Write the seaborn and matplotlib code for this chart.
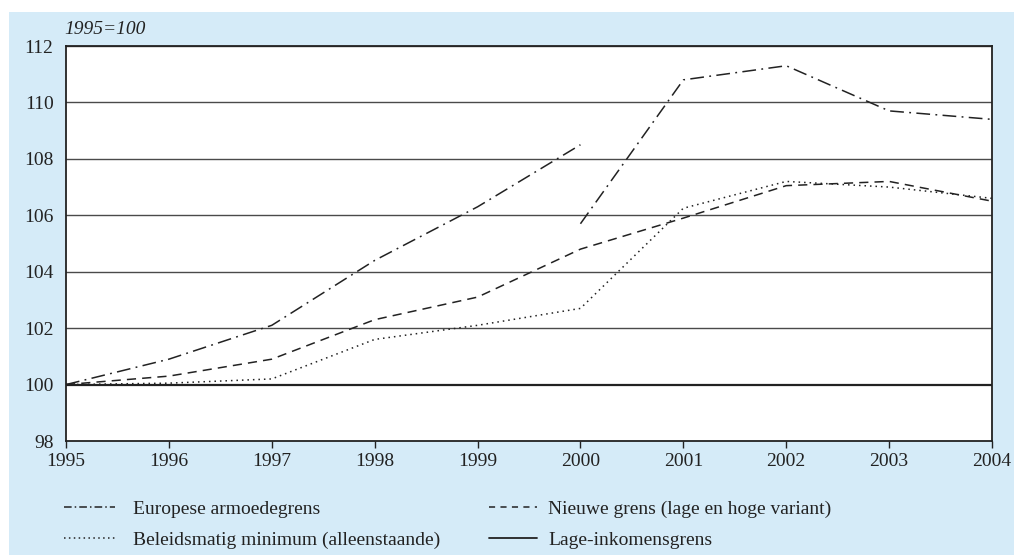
import matplotlib
matplotlib.use("Agg")
import matplotlib.pyplot as plt
import seaborn as sns
from matplotlib.patches import Rectangle
from matplotlib.lines import Line2D

# Index values, 1995 = 100
years = [1995, 1996, 1997, 1998, 1999, 2000, 2001, 2002, 2003, 2004]
europese_oud_jaren = [1995, 1996, 1997, 1998, 1999, 2000]
europese_oud = [100.0, 100.9, 102.1, 104.4, 106.3, 108.5]
europese_nieuw_jaren = [2000, 2001, 2002, 2003, 2004]
europese_nieuw = [105.7, 110.8, 111.3, 109.7, 109.4]
nieuwe_grens = [100.0, 100.3, 100.9, 102.3, 103.1, 104.8, 105.9, 107.05, 107.2, 106.5]
beleidsmatig = [100.0, 100.05, 100.2, 101.6, 102.1, 102.7, 106.25, 107.2, 107.0, 106.6]
lage_inkomens = [100.0] * 10

labels = ["Europese armoedegrens", "Beleidsmatig minimum (alleenstaande)",
          "Nieuwe grens (lage en hoge variant)", "Lage-inkomensgrens"]

sns.set_theme(style="white")
plt.rcParams["font.family"] = ["Liberation Serif", "DejaVu Serif"]

BG = "#d5ebf8"
INK = "#222222"

fig = plt.figure(figsize=(10.14, 5.55), dpi=100)
fig.patch.set_facecolor("white")
fig.patches.append(Rectangle((9 / 1014, 0), 1 - 9 / 1014, 1 - 12 / 555,
                             transform=fig.transFigure, facecolor=BG,
                             edgecolor="none", zorder=-10))

ax = fig.add_axes([66 / 1014, 1 - 441 / 555, (992 - 66) / 1014, (441 - 46) / 555])
ax.set_facecolor("white")

ls_eu = (0, (9, 3.5, 1.2, 3.5))
ls_new = (0, (6, 4))
ls_bel = (0, (1, 2.6))

ax.set_yticks(range(98, 113, 2))
for v in range(102, 113, 2):
    ax.axhline(v, color="#4a4a4a", lw=1.0, zorder=1)

kw = dict(color=INK, linewidth=1.1, ax=ax, legend=False, zorder=3)
sns.lineplot(x=europese_oud_jaren, y=europese_oud, linestyle=ls_eu, **kw)
sns.lineplot(x=europese_nieuw_jaren, y=europese_nieuw, linestyle=ls_eu, **kw)
sns.lineplot(x=years, y=nieuwe_grens, linestyle=ls_new, **kw)
sns.lineplot(x=years, y=beleidsmatig, linestyle=ls_bel, **kw)
sns.lineplot(x=years, y=lage_inkomens, color=INK, linewidth=1.6, ax=ax,
             legend=False, zorder=4)

ax.set_xlim(1995, 2004)
ax.set_ylim(98, 112)
ax.set_xticks(years)
ax.set_xticklabels([str(y) for y in years])
ax.set_xlabel("")
ax.set_ylabel("")
for s in ax.spines.values():
    s.set_visible(True)
    s.set_color(INK)
    s.set_linewidth(1.3)
ax.tick_params(axis="x", direction="out", length=5, width=1, color=INK,
               labelsize=14, labelcolor=INK, pad=4, bottom=True)
ax.tick_params(axis="y", length=0, labelsize=14, labelcolor=INK, pad=9, left=False)

fig.text(64 / 1014, 1 - 30 / 555, "1995=100", fontsize=14, style="italic",
         color=INK, ha="left", va="center")

def handle(ls, lw=1.1):
    return Line2D([], [], color=INK, linewidth=lw, linestyle=ls)

leg_kw = dict(frameon=False, fontsize=14, labelspacing=0.7, borderpad=0,
              borderaxespad=0, loc="upper left", labelcolor=INK)
leg1 = fig.legend([handle((0, (5, 2, 1, 2))), handle((0, (1, 2.2)))],
                  labels[:2], bbox_to_anchor=(64 / 1014, 1 - 500 / 555),
                  handlelength=2.6, handletextpad=0.95, **leg_kw)
leg2 = fig.legend([handle((0, (4, 3.5))), handle("-", 1.3)],
                  labels[2:], bbox_to_anchor=(489 / 1014, 1 - 500 / 555),
                  handlelength=2.45, handletextpad=0.6, **leg_kw)

fig.savefig("out.png", dpi=100)
